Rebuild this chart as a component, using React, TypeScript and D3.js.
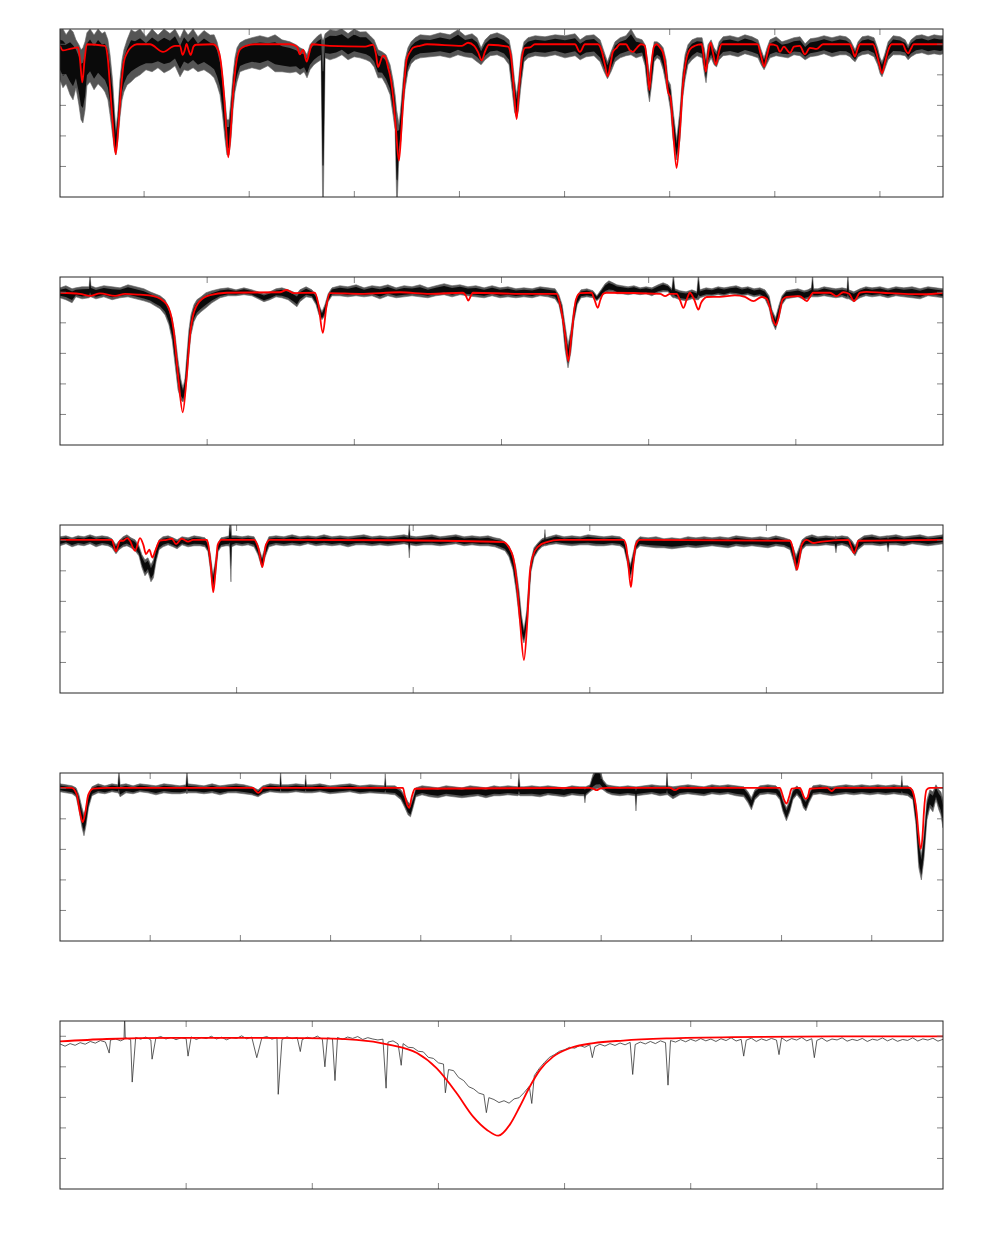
import React from 'react';
import * as d3 from 'd3';

const width = 1003;
const height = 1240;
const plotLeft = 60;
const plotRight = 943;
const firstTop = 29;
const panelStep = 248;
const panelHeight = 168;
const tickLen = 6;

const fluxDomain = [0, 1.1];
const fluxTicks = [0.2, 0.4, 0.6, 0.8, 1.0];

// panel 1: H9 .. Hdelta
const p1Domain = [3810, 4230];
const p1Ticks = [3850, 3900, 3950, 4000, 4050, 4100, 4150, 4200];
// observed spectrum, [wavelength, upper edge, lower edge] of the noise band
const p1Obs = [
  [3810.0, 1.095, 0.767], [3811.4, 1.10, 0.715], [3812.9, 1.062, 0.741], [3814.8, 1.10, 0.669], [3816.2, 1.082, 0.636],
  [3817.6, 1.029, 0.715], [3819.0, 0.997, 0.603], [3820.0, 0.964, 0.505], [3820.9, 0.977, 0.485], [3821.9, 1.016, 0.570],
  [3822.8, 1.075, 0.728], [3824.3, 1.10, 0.754], [3826.2, 1.06, 0.702], [3828.1, 1.10, 0.741], [3830.0, 1.07, 0.715],
  [3831.4, 1.082, 0.688], [3832.8, 1.029, 0.636], [3833.8, 0.931, 0.538], [3835.0, 0.767, 0.407], [3835.9, 0.570, 0.308],
  [3836.6, 0.439, 0.275], [3837.6, 0.570, 0.374], [3838.5, 0.767, 0.518], [3839.5, 0.898, 0.636], [3840.4, 0.964, 0.688],
  [3841.9, 1.029, 0.734], [3843.8, 1.095, 0.754], [3845.7, 1.08, 0.780], [3848.1, 1.10, 0.80], [3850.9, 1.05, 0.833],
  [3853.8, 1.10, 0.820], [3856.6, 1.06, 0.846], [3859.5, 1.10, 0.813], [3862.3, 1.07, 0.833], [3864.7, 1.10, 0.859],
  [3867.1, 1.04, 0.787], [3869.0, 1.10, 0.833], [3870.9, 1.06, 0.826], [3873.3, 1.10, 0.846], [3875.6, 1.05, 0.820],
  [3878.5, 1.09, 0.833], [3881.4, 1.06, 0.807], [3883.3, 1.062, 0.780], [3884.7, 1.016, 0.734], [3886.1, 0.931, 0.669],
  [3887.3, 0.80, 0.538], [3888.5, 0.636, 0.374], [3889.4, 0.505, 0.275], [3890.4, 0.505, 0.275], [3891.3, 0.636, 0.374],
  [3892.3, 0.80, 0.570], [3893.2, 0.911, 0.688], [3894.2, 0.977, 0.754], [3895.6, 1.010, 0.820], [3898.0, 1.029, 0.833],
  [3901.3, 1.043, 0.846], [3905.1, 1.056, 0.833], [3908.9, 1.043, 0.859], [3912.3, 1.062, 0.820], [3915.6, 1.029, 0.820],
  [3919.4, 1.016, 0.813], [3922.3, 0.997, 0.820], [3924.2, 0.977, 0.80], [3926.1, 0.964, 0.820], [3927.5, 0.931, 0.780],
  [3928.9, 0.997, 0.833], [3930.8, 1.029, 0.866], [3932.7, 1.056, 0.885], [3934.2, 1.069, 0.898], [3934.9, 1.029, 0],
  [3935.3, 1.029, 0], [3936.1, 1.069, 0.911], [3938.4, 1.095, 0.898], [3941.3, 1.089, 0.911], [3944.1, 1.10, 0.931],
  [3947.0, 1.07, 0.898], [3949.9, 1.10, 0.918], [3952.7, 1.08, 0.911], [3955.6, 1.082, 0.898], [3957.5, 1.056, 0.885],
  [3959.4, 1.029, 0.852], [3961.3, 0.964, 0.780], [3963.2, 0.951, 0.780], [3965.1, 0.931, 0.734], [3967.0, 0.866, 0.669],
  [3968.4, 0.767, 0.538], [3969.4, 0.669, 0.439], [3970.1, 0.570, 0], [3970.5, 0.538, 0], [3971.3, 0.472, 0.308],
  [3972.2, 0.603, 0.374], [3973.2, 0.767, 0.570], [3974.1, 0.898, 0.702], [3975.5, 0.977, 0.820], [3977.0, 1.016, 0.872],
  [3978.9, 1.043, 0.898], [3981.3, 1.062, 0.911], [3986.0, 1.056, 0.918], [3990.8, 1.075, 0.925], [3995.5, 1.062, 0.911],
  [3999.3, 1.095, 0.931], [4002.7, 1.056, 0.918], [4006.0, 1.069, 0.911], [4008.4, 1.043, 0.885], [4010.3, 0.977, 0.866],
  [4012.2, 1.029, 0.898], [4014.6, 1.062, 0.925], [4017.9, 1.075, 0.931], [4021.2, 1.056, 0.911], [4023.6, 1.029, 0.866],
  [4025.0, 0.931, 0.702], [4026.2, 0.767, 0.557], [4027.2, 0.669, 0.518], [4028.1, 0.767, 0.570], [4029.3, 0.931, 0.734],
  [4030.7, 1.016, 0.885], [4032.6, 1.043, 0.911], [4036.0, 1.056, 0.925], [4040.7, 1.049, 0.918], [4045.5, 1.062, 0.931],
  [4050.2, 1.056, 0.911], [4055.0, 1.069, 0.925], [4057.4, 1.029, 0.898], [4060.2, 1.056, 0.918], [4064.0, 1.062, 0.925],
  [4066.9, 1.029, 0.885], [4068.8, 0.951, 0.820], [4070.4, 0.885, 0.774], [4072.1, 0.951, 0.820], [4074.0, 1.016, 0.885],
  [4076.4, 1.043, 0.911], [4079.2, 1.056, 0.925], [4081.6, 1.10, 0.931], [4084.0, 1.043, 0.911], [4086.9, 1.029, 0.925],
  [4088.3, 0.997, 0.859], [4089.5, 0.898, 0.702], [4090.4, 0.80, 0.623], [4091.4, 0.898, 0.734], [4092.6, 1.016, 0.885],
  [4094.0, 1.016, 0.911], [4095.4, 1.003, 0.898], [4096.9, 0.977, 0.833], [4098.3, 0.898, 0.734], [4099.2, 0.767, 0.669],
  [4100.4, 0.734, 0.570], [4101.6, 0.570, 0.374], [4103.3, 0.374, 0.243], [4104.9, 0.570, 0.374], [4106.1, 0.80, 0.636],
  [4107.3, 0.931, 0.767], [4108.7, 0.997, 0.866], [4110.6, 1.029, 0.898], [4113.0, 1.043, 0.925], [4115.4, 1.043, 0.911],
  [4116.6, 0.964, 0.80], [4117.3, 0.898, 0.748], [4118.2, 0.997, 0.866], [4119.7, 1.029, 0.911], [4121.1, 0.977, 0.866],
  [4122.3, 0.951, 0.852], [4123.5, 1.016, 0.898], [4125.4, 1.049, 0.925], [4128.7, 1.056, 0.931], [4132.5, 1.043, 0.918],
  [4135.8, 1.062, 0.938], [4139.2, 1.049, 0.925], [4142.0, 1.029, 0.911], [4143.5, 0.964, 0.866], [4144.9, 0.911, 0.833],
  [4146.3, 0.977, 0.872], [4147.7, 1.029, 0.911], [4150.6, 1.049, 0.925], [4153.4, 1.016, 0.918], [4156.3, 1.029, 0.911],
  [4159.1, 1.043, 0.931], [4162.0, 1.049, 0.925], [4164.4, 1.003, 0.898], [4166.8, 1.036, 0.918], [4170.1, 1.043, 0.925],
  [4173.4, 1.056, 0.938], [4177.2, 1.043, 0.918], [4181.0, 1.056, 0.931], [4183.9, 1.049, 0.931], [4185.8, 1.029, 0.918],
  [4187.0, 0.997, 0.898], [4188.2, 0.964, 0.885], [4189.6, 1.016, 0.918], [4191.5, 1.049, 0.931], [4194.4, 1.056, 0.938],
  [4197.2, 1.043, 0.918], [4198.9, 0.977, 0.866], [4200.1, 0.911, 0.807], [4201.0, 0.885, 0.787], [4202.2, 0.931, 0.833],
  [4203.9, 1.016, 0.898], [4206.3, 1.056, 0.931], [4209.6, 1.049, 0.931], [4212.0, 1.029, 0.925], [4213.4, 0.990, 0.898],
  [4214.8, 1.029, 0.918], [4217.2, 1.056, 0.938], [4220.0, 1.062, 0.944], [4222.9, 1.049, 0.931], [4225.8, 1.062, 0.938],
  [4228.6, 1.056, 0.931], [4230.0, 1.056, 0.938],
];
// fitted model
const p1Model = [
  [3810.0, 0.99], [3811.4, 0.96], [3814.8, 0.97], [3818.6, 0.98], [3819.5, 0.90], [3820.6, 0.75], [3821.7, 0.90],
  [3822.8, 1.0], [3831.4, 0.99], [3832.8, 0.90], [3833.8, 0.72], [3835.0, 0.50], [3836.5, 0.28], [3837.8, 0.47],
  [3839.0, 0.70], [3840.4, 0.885], [3841.9, 0.944], [3844.2, 0.985], [3846.6, 1.0], [3852.8, 1.0], [3859.0, 0.95],
  [3864.7, 0.99], [3867.1, 0.99], [3868.3, 0.93], [3869.4, 0.964], [3870.2, 1.003], [3871.1, 0.964], [3872.2, 0.93],
  [3873.5, 0.985], [3874.7, 0.997], [3882.8, 1.0], [3884.6, 0.98], [3886.5, 0.885], [3888.0, 0.67], [3889.2, 0.41],
  [3890.0, 0.26], [3891.1, 0.41], [3892.3, 0.67], [3893.7, 0.865], [3895.6, 0.966], [3898.5, 0.99], [3902.7, 1.0],
  [3919.4, 1.0], [3922.7, 0.984], [3924.1, 0.934], [3925.6, 0.964], [3927.3, 0.887], [3928.7, 0.95], [3929.9, 1.0],
  [3938.4, 0.99], [3955.1, 0.985], [3958.9, 0.997], [3960.3, 0.934], [3961.3, 0.85], [3962.2, 0.88], [3963.6, 0.925],
  [3964.6, 0.92], [3966.0, 0.85], [3967.4, 0.767], [3968.6, 0.636], [3969.8, 0.439], [3971.2, 0.238], [3972.4, 0.44],
  [3973.4, 0.67], [3974.9, 0.90], [3976.5, 0.95], [3977.9, 0.977], [3981.2, 0.99], [3984.6, 1.0], [4001.2, 0.99],
  [4004.1, 1.01], [4007.0, 0.99], [4008.8, 0.95], [4010.6, 0.895], [4012.1, 0.95], [4014.0, 0.997], [4023.1, 0.985],
  [4024.7, 0.90], [4025.9, 0.70], [4027.2, 0.51], [4028.3, 0.70], [4029.6, 0.90], [4031.2, 0.977], [4033.5, 0.98],
  [4035.9, 1.0], [4054.9, 1.0], [4057.3, 0.95], [4059.7, 1.0], [4065.9, 1.0], [4067.8, 0.95], [4069.2, 0.866],
  [4070.5, 0.79], [4071.8, 0.866], [4073.0, 0.95], [4074.8, 0.977], [4076.3, 1.0], [4079.2, 1.0], [4080.9, 0.964],
  [4082.5, 0.95], [4084.4, 0.977], [4086.3, 1.0], [4088.2, 0.99], [4089.3, 0.866], [4090.3, 0.70], [4091.3, 0.866],
  [4092.5, 0.984], [4093.8, 1.0], [4095.4, 0.977], [4096.8, 0.944], [4098.2, 0.833], [4099.2, 0.69], [4100.4, 0.65],
  [4101.6, 0.44], [4103.3, 0.19], [4104.9, 0.44], [4106.3, 0.734], [4107.7, 0.885], [4109.6, 0.966], [4112.0, 0.99],
  [4115.2, 1.0], [4115.8, 0.96], [4117.2, 0.82], [4118.4, 0.95], [4119.5, 1.01], [4120.5, 0.95], [4122.0, 0.866],
  [4123.4, 0.95], [4124.7, 1.0], [4141.8, 1.0], [4143.3, 0.934], [4144.9, 0.854], [4146.4, 0.934], [4147.8, 1.0],
  [4151.0, 0.99], [4152.4, 0.95], [4154.3, 0.984], [4157.2, 0.944], [4159.1, 0.984], [4161.9, 0.99], [4164.3, 0.934],
  [4166.7, 0.977], [4169.9, 0.97], [4172.9, 1.0], [4185.7, 1.0], [4186.9, 0.964], [4188.1, 0.92], [4189.3, 0.964],
  [4190.5, 1.0], [4196.7, 1.0], [4198.3, 0.944], [4199.5, 0.88], [4201.0, 0.81], [4202.4, 0.88], [4203.7, 0.951],
  [4205.6, 1.0], [4210.9, 1.0], [4212.1, 0.964], [4213.4, 0.94], [4214.7, 0.97], [4216.1, 1.0], [4230.0, 1.0],
];

// panel 2: Hgamma .. HeII 4542
const p2Domain = [4300, 4600];
const p2Ticks = [4350, 4400, 4450, 4500, 4550];
const p2Obs = [
  [4300.0, 1.029, 0.964], [4302.0, 1.043, 0.951], [4304.1, 1.023, 0.931], [4305.4, 1.029, 0.970], [4307.5, 1.036, 0.957],
  [4309.9, 1.036, 0.964], [4310.2, 1.12, 0.970], [4310.5, 1.043, 0.970], [4312.2, 1.029, 0.957], [4314.9, 1.043, 0.970],
  [4317.7, 1.036, 0.951], [4320.4, 1.029, 0.964], [4323.1, 1.049, 0.970], [4325.8, 1.036, 0.957], [4328.5, 1.023, 0.944],
  [4330.6, 1.003, 0.931], [4332.3, 0.990, 0.911], [4334.0, 0.977, 0.892], [4335.7, 0.951, 0.852], [4337.0, 0.898, 0.787],
  [4338.1, 0.833, 0.689], [4339.1, 0.721, 0.525], [4340.1, 0.557, 0.361], [4341.1, 0.426, 0.295], [4341.8, 0.374, 0.282],
  [4342.5, 0.439, 0.321], [4343.1, 0.590, 0.426], [4343.8, 0.754, 0.590], [4344.5, 0.852, 0.721], [4345.5, 0.918, 0.807],
  [4346.5, 0.951, 0.846], [4347.9, 0.970, 0.872], [4349.6, 0.997, 0.898], [4351.6, 1.010, 0.931], [4354.4, 1.023, 0.964],
  [4357.1, 1.029, 0.977], [4359.8, 1.016, 0.977], [4362.5, 1.029, 0.984], [4365.2, 1.016, 0.977], [4367.3, 1.003, 0.957],
  [4369.3, 0.990, 0.938], [4371.3, 1.003, 0.951], [4373.4, 1.023, 0.970], [4375.4, 1.029, 0.964], [4377.5, 1.016, 0.951],
  [4379.2, 1.003, 0.925], [4380.5, 0.990, 0.905], [4381.5, 1.016, 0.938], [4383.6, 1.036, 0.970], [4385.6, 1.016, 0.964],
  [4387.0, 0.984, 0.918], [4388.0, 0.918, 0.852], [4389.0, 0.872, 0.820], [4390.0, 0.918, 0.846], [4391.1, 0.990, 0.938],
  [4392.4, 1.029, 0.977], [4395.1, 1.043, 0.977], [4397.8, 1.036, 0.970], [4400.6, 1.049, 0.977], [4403.3, 1.029, 0.970],
  [4406.0, 1.043, 0.977], [4408.7, 1.036, 0.957], [4411.4, 1.049, 0.977], [4414.2, 1.029, 0.964], [4416.9, 1.043, 0.970],
  [4419.6, 1.036, 0.977], [4422.3, 1.049, 0.970], [4425.0, 1.029, 0.964], [4427.7, 1.043, 0.977], [4430.5, 1.056, 0.984],
  [4433.2, 1.043, 0.970], [4435.9, 1.049, 0.984], [4438.6, 1.036, 0.977], [4441.3, 1.043, 0.970], [4444.1, 1.029, 0.964],
  [4446.8, 1.043, 0.977], [4449.5, 1.029, 0.964], [4452.2, 1.036, 0.970], [4454.9, 1.023, 0.964], [4457.6, 1.029, 0.970],
  [4460.4, 1.023, 0.964], [4463.1, 1.036, 0.977], [4465.8, 1.029, 0.970], [4468.2, 1.023, 0.957], [4469.5, 0.984, 0.918],
  [4470.6, 0.918, 0.820], [4471.6, 0.787, 0.623], [4472.6, 0.656, 0.505], [4473.6, 0.754, 0.610], [4474.6, 0.898, 0.807],
  [4475.7, 0.977, 0.918], [4477.0, 1.016, 0.964], [4479.0, 1.023, 0.970], [4481.1, 1.010, 0.964], [4482.4, 0.977, 0.944],
  [4483.8, 1.016, 0.970], [4485.2, 1.056, 0.997], [4486.5, 1.075, 1.003], [4487.9, 1.062, 1.003], [4489.2, 1.049, 0.990],
  [4490.9, 1.043, 0.990], [4493.0, 1.036, 0.984], [4495.0, 1.043, 0.990], [4497.1, 1.029, 0.984], [4499.1, 1.036, 0.990],
  [4501.1, 1.029, 0.977], [4503.2, 1.049, 0.997], [4504.9, 1.062, 1.003], [4506.6, 1.049, 1.003], [4507.9, 1.023, 0.970],
  [4508.4, 1.12, 0.964], [4508.9, 1.023, 0.964], [4510.6, 1.010, 0.951], [4512.7, 1.003, 0.944], [4514.7, 1.016, 0.957],
  [4516.4, 1.003, 0.951], [4516.9, 1.12, 0.951], [4517.4, 1.016, 0.964], [4519.5, 1.029, 0.977], [4521.5, 1.023, 0.977],
  [4523.6, 1.036, 0.984], [4525.6, 1.029, 0.977], [4527.6, 1.036, 0.990], [4529.7, 1.043, 0.984], [4531.7, 1.029, 0.977],
  [4533.7, 1.036, 0.984], [4535.8, 1.023, 0.970], [4537.8, 1.029, 0.977], [4539.5, 1.016, 0.957], [4540.9, 0.977, 0.898],
  [4541.9, 0.885, 0.807], [4543.1, 0.833, 0.754], [4544.3, 0.918, 0.833], [4545.3, 0.977, 0.918], [4546.7, 1.010, 0.957],
  [4548.7, 1.016, 0.964], [4550.7, 1.023, 0.970], [4552.8, 1.010, 0.951], [4554.1, 1.016, 0.957], [4555.3, 1.029, 0.970],
  [4555.7, 1.12, 0.970], [4556.0, 1.023, 0.970], [4557.5, 1.023, 0.970], [4559.6, 1.036, 0.977], [4561.6, 1.029, 0.970],
  [4563.6, 1.023, 0.964], [4565.7, 1.029, 0.970], [4567.4, 1.023, 0.957], [4567.7, 1.12, 0.957], [4568.0, 1.016, 0.957],
  [4569.7, 1.003, 0.938], [4571.8, 1.023, 0.964], [4573.8, 1.036, 0.977], [4575.9, 1.029, 0.970], [4578.6, 1.036, 0.977],
  [4581.3, 1.023, 0.964], [4584.0, 1.036, 0.977], [4586.7, 1.029, 0.970], [4589.5, 1.036, 0.964], [4592.2, 1.023, 0.957],
  [4594.9, 1.036, 0.977], [4597.6, 1.029, 0.970], [4600.0, 1.023, 0.964],
];
const p2Model = [
  [4300.0, 0.997], [4306.8, 0.990], [4310.2, 0.977], [4313.6, 0.993], [4318.7, 0.977], [4322.1, 0.990], [4327.2, 0.984],
  [4331.7, 0.975], [4336.3, 0.920], [4338.5, 0.767], [4340.2, 0.439], [4341.7, 0.214], [4343.0, 0.439], [4344.2, 0.723],
  [4345.3, 0.854], [4347.6, 0.944], [4351.0, 0.982], [4356.6, 0.997], [4374.7, 1.0], [4377.0, 1.015], [4379.3, 0.995],
  [4386.6, 0.997], [4387.8, 0.920], [4389.3, 0.734], [4390.6, 0.920], [4391.7, 0.995], [4401.9, 0.990], [4415.5, 1.0],
  [4425.7, 0.990], [4436.9, 0.997], [4437.9, 0.977], [4438.7, 0.946], [4439.6, 0.977], [4440.3, 0.997], [4456.3, 0.990],
  [4468.7, 0.990], [4469.9, 0.920], [4471.6, 0.723], [4472.7, 0.549], [4473.8, 0.723], [4475.3, 0.953], [4476.7, 0.995],
  [4480.6, 0.997], [4481.6, 0.951], [4482.7, 0.898], [4483.6, 0.951], [4484.6, 0.990], [4485.7, 0.997], [4503.9, 0.990],
  [4505.6, 0.975], [4507.3, 0.990], [4509.5, 0.990], [4510.6, 0.951], [4511.8, 0.898], [4512.9, 0.951], [4514.0, 0.997],
  [4515.5, 0.951], [4516.9, 0.887], [4517.8, 0.931], [4518.6, 0.953], [4519.7, 0.969], [4524.2, 0.970], [4529.3, 0.980],
  [4532.7, 0.970], [4535.6, 0.942], [4538.4, 0.969], [4540.1, 0.957], [4541.2, 0.898], [4542.4, 0.811], [4543.2, 0.785],
  [4544.1, 0.833], [4545.5, 0.953], [4546.9, 0.970], [4551.4, 0.975], [4553.7, 0.942], [4555.9, 0.997], [4561.6, 0.997],
  [4563.9, 0.975], [4566.1, 1.0], [4568.1, 0.990], [4569.8, 0.942], [4571.8, 0.997], [4574.1, 1.003], [4579.6, 0.997],
  [4593.2, 0.987], [4600.0, 0.997],
];

// panel 3: HeII 4686 .. HeI 5016
const p3Domain = [4600, 5100];
const p3Ticks = [4700, 4800, 4900, 5000];
const p3Obs = [
  [4600.0, 1.023, 0.964], [4603.4, 1.029, 0.977], [4606.8, 1.016, 0.957], [4610.2, 1.029, 0.970], [4613.6, 1.023, 0.964],
  [4617.0, 1.036, 0.977], [4620.4, 1.023, 0.957], [4623.8, 1.029, 0.970], [4627.2, 1.023, 0.964], [4629.4, 1.010, 0.951],
  [4631.7, 0.970, 0.911], [4633.4, 0.997, 0.938], [4635.7, 1.023, 0.957], [4637.9, 1.036, 0.964], [4640.2, 1.016, 0.951],
  [4642.5, 1.003, 0.931], [4644.7, 0.964, 0.898], [4646.4, 0.905, 0.820], [4648.1, 0.872, 0.767], [4649.8, 0.885, 0.793],
  [4651.5, 0.839, 0.728], [4652.9, 0.872, 0.754], [4654.4, 0.951, 0.859], [4656.1, 1.003, 0.938], [4658.3, 1.023, 0.957],
  [4661.2, 1.029, 0.970], [4664.0, 1.016, 0.957], [4666.3, 1.003, 0.944], [4669.1, 1.023, 0.970], [4672.5, 1.016, 0.957],
  [4675.9, 1.029, 0.964], [4679.3, 1.023, 0.964], [4682.1, 1.016, 0.957], [4683.8, 0.984, 0.925], [4685.2, 0.905, 0.807],
  [4686.6, 0.774, 0.675], [4688.1, 0.872, 0.774], [4689.5, 0.984, 0.925], [4691.2, 1.016, 0.957], [4694.0, 1.023, 0.964],
  [4695.7, 1.029, 0.964], [4696.1, 1.12, 0.951], [4696.8, 1.12, 0.728], [4697.2, 1.029, 0.957], [4699.7, 1.029, 0.970],
  [4703.1, 1.023, 0.964], [4706.5, 1.029, 0.970], [4709.9, 1.023, 0.957], [4712.1, 0.970, 0.905], [4714.4, 0.885, 0.820],
  [4716.4, 0.970, 0.898], [4718.3, 1.023, 0.957], [4722.3, 1.029, 0.970], [4726.8, 1.023, 0.964], [4731.4, 1.036, 0.970],
  [4735.9, 1.023, 0.964], [4740.4, 1.029, 0.977], [4745.0, 1.023, 0.964], [4749.5, 1.036, 0.970], [4754.0, 1.023, 0.964],
  [4758.6, 1.029, 0.970], [4763.1, 1.023, 0.957], [4767.6, 1.029, 0.970], [4772.1, 1.036, 0.970], [4776.7, 1.023, 0.964],
  [4781.2, 1.029, 0.970], [4785.7, 1.023, 0.964], [4790.3, 1.029, 0.970], [4794.8, 1.036, 0.977], [4797.3, 1.029, 0.970],
  [4797.8, 1.12, 0.885], [4798.2, 1.029, 0.970], [4801.6, 1.023, 0.964], [4806.1, 1.029, 0.970], [4810.6, 1.036, 0.970],
  [4815.2, 1.023, 0.964], [4819.7, 1.029, 0.970], [4824.2, 1.036, 0.977], [4828.8, 1.023, 0.964], [4833.3, 1.029, 0.970],
  [4837.8, 1.023, 0.964], [4842.4, 1.029, 0.964], [4846.3, 1.016, 0.957], [4849.2, 1.010, 0.944], [4852.0, 0.990, 0.931],
  [4854.2, 0.964, 0.892], [4856.5, 0.905, 0.807], [4858.2, 0.820, 0.675], [4859.9, 0.675, 0.511], [4861.3, 0.511, 0.380],
  [4862.7, 0.413, 0.328], [4864.2, 0.531, 0.413], [4865.6, 0.741, 0.610], [4866.7, 0.872, 0.793], [4868.4, 0.951, 0.885],
  [4870.7, 0.984, 0.931], [4872.9, 1.010, 0.957], [4874.3, 1.016, 0.964], [4874.6, 1.07, 0.964], [4874.9, 1.016, 0.964],
  [4876.9, 1.023, 0.970], [4880.9, 1.036, 0.977], [4885.4, 1.023, 0.970], [4889.9, 1.029, 0.964], [4894.5, 1.023, 0.970],
  [4899.0, 1.036, 0.970], [4903.5, 1.029, 0.964], [4908.0, 1.023, 0.964], [4912.6, 1.029, 0.970], [4917.1, 1.023, 0.964],
  [4919.4, 1.003, 0.944], [4921.1, 0.925, 0.859], [4923.0, 0.839, 0.754], [4924.7, 0.925, 0.839], [4926.2, 0.997, 0.938],
  [4928.4, 1.023, 0.964], [4933.0, 1.016, 0.957], [4937.5, 1.023, 0.951], [4942.0, 1.010, 0.951], [4946.5, 1.016, 0.944],
  [4951.1, 1.010, 0.951], [4955.6, 1.023, 0.957], [4960.1, 1.016, 0.951], [4964.7, 1.023, 0.957], [4969.2, 1.016, 0.964],
  [4973.7, 1.023, 0.957], [4978.3, 1.016, 0.951], [4982.8, 1.029, 0.964], [4987.3, 1.023, 0.957], [4991.8, 1.016, 0.964],
  [4996.4, 1.023, 0.957], [5000.9, 1.016, 0.951], [5005.4, 1.029, 0.964], [5010.0, 1.016, 0.957], [5013.4, 1.003, 0.938],
  [5015.1, 0.957, 0.872], [5016.8, 0.898, 0.800], [5018.5, 0.951, 0.859], [5020.2, 1.003, 0.938], [5022.4, 1.023, 0.964],
  [5025.8, 1.036, 0.964], [5029.2, 1.023, 0.964], [5033.7, 1.029, 0.970], [5038.8, 1.023, 0.964], [5039.4, 1.029, 0.918],
  [5039.9, 1.023, 0.964], [5042.8, 1.029, 0.970], [5046.2, 1.023, 0.957], [5048.5, 0.997, 0.925], [5050.2, 0.964, 0.898],
  [5051.9, 1.003, 0.938], [5055.3, 1.029, 0.970], [5059.8, 1.036, 0.970], [5064.3, 1.023, 0.964], [5068.3, 1.029, 0.970],
  [5068.9, 1.029, 0.925], [5069.4, 1.029, 0.970], [5073.4, 1.036, 0.970], [5077.9, 1.023, 0.964], [5082.5, 1.029, 0.977],
  [5087.0, 1.036, 0.970], [5091.5, 1.023, 0.964], [5096.0, 1.029, 0.970], [5100.0, 1.036, 0.977],
];
const p3Model = [
  [4600.0, 1.003], [4629.3, 1.003], [4631.7, 0.927], [4634.0, 0.997], [4635.8, 0.997], [4638.1, 1.014], [4639.6, 0.997],
  [4642.5, 0.931], [4645.3, 1.014], [4647.2, 0.970], [4648.7, 0.909], [4650.6, 0.938], [4652.3, 0.887], [4653.8, 0.927],
  [4656.6, 0.997], [4660.4, 1.003], [4663.3, 1.010], [4665.7, 0.975], [4668.9, 1.010], [4672.6, 0.991], [4675.3, 1.003],
  [4683.2, 1.003], [4684.0, 0.970], [4685.3, 0.839], [4686.8, 0.660], [4688.2, 0.820], [4689.3, 0.970], [4691.6, 1.003],
  [4709.9, 1.003], [4712.3, 0.949], [4714.6, 0.824], [4716.6, 0.970], [4718.9, 1.003], [4792.5, 1.0], [4851.0, 0.988],
  [4853.9, 0.959], [4856.7, 0.883], [4858.6, 0.730], [4860.5, 0.468], [4862.7, 0.216], [4864.6, 0.468], [4866.1, 0.795],
  [4868.0, 0.905], [4870.8, 0.959], [4875.6, 0.988], [4883.1, 1.002], [4919.0, 1.003], [4920.5, 0.970], [4921.8, 0.839],
  [4923.3, 0.693], [4924.6, 0.839], [4926.0, 0.970], [4928.4, 1.002], [5013.4, 0.997], [5014.9, 0.949], [5016.2, 0.861],
  [5017.3, 0.807], [5018.6, 0.872], [5020.0, 0.970], [5022.8, 1.002], [5026.6, 0.982], [5030.4, 0.990], [5046.4, 1.003],
  [5047.9, 0.964], [5049.6, 0.916], [5051.3, 0.964], [5052.0, 0.997], [5100.0, 1.003],
];

// panel 4: HeII 5411 .. HeI 5876
const p4Domain = [5400, 5889.5];
const p4Ticks = [5450, 5500, 5550, 5600, 5650, 5700, 5750, 5800, 5850];
const p4Obs = [
  [5400.0, 1.029, 0.977], [5403.3, 1.023, 0.970], [5406.7, 1.016, 0.964], [5408.9, 1.003, 0.944], [5410.5, 0.957, 0.859],
  [5412.2, 0.872, 0.741], [5413.3, 0.826, 0.689], [5414.4, 0.872, 0.754], [5415.8, 0.957, 0.872], [5417.7, 1.010, 0.951],
  [5421.1, 1.029, 0.970], [5424.9, 1.016, 0.964], [5428.8, 1.029, 0.977], [5432.1, 1.023, 0.970], [5432.7, 1.12, 0.964],
  [5433.3, 1.023, 0.944], [5436.6, 1.029, 0.970], [5440.5, 1.016, 0.964], [5444.3, 1.029, 0.977], [5448.8, 1.023, 0.970],
  [5453.2, 1.016, 0.957], [5457.6, 1.029, 0.970], [5462.1, 1.023, 0.964], [5466.5, 1.016, 0.964], [5469.8, 1.023, 0.970],
  [5470.4, 1.12, 0.964], [5470.9, 1.029, 0.970], [5475.4, 1.023, 0.970], [5479.8, 1.016, 0.964], [5484.3, 1.029, 0.970],
  [5488.7, 1.016, 0.957], [5493.1, 1.023, 0.970], [5497.6, 1.029, 0.970], [5502.0, 1.023, 0.964], [5506.4, 1.010, 0.957],
  [5509.8, 0.990, 0.944], [5512.5, 1.016, 0.964], [5516.4, 1.029, 0.977], [5521.9, 1.023, 0.970], [5522.3, 1.12, 0.970],
  [5522.7, 1.023, 0.970], [5526.4, 1.023, 0.970], [5530.8, 1.029, 0.977], [5535.8, 1.023, 0.970], [5536.2, 1.088, 0.970],
  [5536.6, 1.023, 0.970], [5539.7, 1.023, 0.970], [5544.1, 1.029, 0.977], [5549.7, 1.016, 0.964], [5555.2, 1.023, 0.970],
  [5560.7, 1.029, 0.977], [5566.3, 1.016, 0.964], [5571.8, 1.023, 0.970], [5579.9, 1.016, 0.964], [5580.3, 1.095, 0.964],
  [5580.7, 1.016, 0.964], [5585.7, 1.016, 0.957], [5589.0, 0.990, 0.925], [5591.2, 0.951, 0.872], [5592.9, 0.911, 0.826],
  [5594.3, 0.892, 0.813], [5595.7, 0.938, 0.872], [5597.3, 1.003, 0.944], [5600.7, 1.016, 0.957], [5605.1, 1.010, 0.944],
  [5609.5, 1.003, 0.938], [5614.0, 1.016, 0.951], [5618.4, 1.010, 0.944], [5622.8, 1.003, 0.938], [5627.3, 1.016, 0.944],
  [5631.7, 1.010, 0.951], [5636.1, 1.003, 0.938], [5640.6, 1.016, 0.951], [5643.9, 1.010, 0.951], [5648.3, 1.016, 0.957],
  [5653.9, 1.010, 0.951], [5654.4, 1.095, 0.957], [5655.0, 1.010, 0.951], [5657.2, 1.010, 0.951], [5661.6, 1.016, 0.951],
  [5666.1, 1.010, 0.944], [5670.5, 1.016, 0.957], [5674.9, 1.010, 0.951], [5679.4, 1.003, 0.944], [5683.8, 1.016, 0.957],
  [5688.2, 1.010, 0.951], [5690.6, 1.010, 0.951], [5691.0, 1.010, 0.905], [5691.4, 1.010, 0.951], [5693.8, 1.023, 0.977],
  [5695.4, 1.088, 0.990], [5697.1, 1.134, 0.997], [5699.3, 1.121, 1.003], [5701.0, 1.056, 0.990], [5703.2, 1.023, 0.970],
  [5706.0, 1.016, 0.957], [5710.4, 1.010, 0.951], [5714.8, 1.016, 0.957], [5718.9, 1.010, 0.951], [5719.3, 1.010, 0.852],
  [5719.7, 1.010, 0.951], [5723.7, 1.016, 0.957], [5728.1, 1.023, 0.964], [5732.6, 1.016, 0.951], [5736.1, 1.016, 0.957],
  [5736.5, 1.12, 0.957], [5736.9, 1.016, 0.957], [5739.8, 1.010, 0.931], [5743.7, 1.016, 0.957], [5748.1, 1.023, 0.964],
  [5752.5, 1.016, 0.957], [5757.0, 1.010, 0.951], [5761.4, 1.023, 0.964], [5765.8, 1.016, 0.957], [5770.3, 1.023, 0.964],
  [5774.7, 1.016, 0.951], [5779.1, 1.010, 0.944], [5781.4, 0.977, 0.905], [5783.3, 0.938, 0.859], [5785.2, 0.990, 0.925],
  [5788.0, 1.016, 0.957], [5792.4, 1.023, 0.964], [5796.9, 1.016, 0.957], [5799.1, 0.990, 0.925], [5800.8, 0.925, 0.846],
  [5802.7, 0.872, 0.787], [5804.6, 0.925, 0.846], [5806.3, 0.990, 0.925], [5808.5, 1.016, 0.957], [5810.7, 0.990, 0.925],
  [5812.1, 0.944, 0.872], [5813.5, 0.925, 0.852], [5815.2, 0.970, 0.905], [5817.4, 1.016, 0.957], [5821.3, 1.023, 0.964],
  [5824.6, 1.016, 0.957], [5827.9, 1.010, 0.951], [5831.3, 1.016, 0.957], [5835.7, 1.023, 0.964], [5840.1, 1.016, 0.957],
  [5844.5, 1.023, 0.964], [5849.0, 1.016, 0.957], [5853.4, 1.023, 0.964], [5857.8, 1.016, 0.957], [5862.3, 1.023, 0.964],
  [5866.3, 1.016, 0.957], [5866.7, 1.082, 0.957], [5867.1, 1.016, 0.957], [5870.0, 1.016, 0.951], [5872.8, 0.990, 0.925],
  [5874.5, 0.892, 0.761], [5876.1, 0.662, 0.479], [5877.5, 0.564, 0.400], [5878.9, 0.695, 0.531], [5880.6, 0.925, 0.793],
  [5882.2, 0.990, 0.872], [5883.9, 0.977, 0.846], [5885.6, 1.023, 0.925], [5887.2, 0.990, 0.859], [5888.3, 0.977, 0.826],
  [5889.5, 0.925, 0.741],
];
const p4Model = [
  [5400.0, 1.003], [5406.5, 1.003], [5409.3, 0.959], [5411.1, 0.839], [5412.6, 0.778], [5414.0, 0.839], [5415.7, 0.959],
  [5418.5, 0.997], [5426.1, 1.003], [5507.0, 1.003], [5508.4, 0.984], [5509.9, 0.970], [5511.4, 0.984], [5512.4, 1.003],
  [5590.1, 1.003], [5591.2, 0.949], [5592.7, 0.887], [5593.6, 0.872], [5594.9, 0.938], [5596.8, 0.997], [5693.8, 1.003],
  [5695.7, 0.997], [5697.5, 0.988], [5699.3, 0.997], [5703.2, 1.003], [5738.1, 1.003], [5740.9, 0.988], [5743.7, 1.003],
  [5799.1, 1.003], [5800.0, 0.977], [5801.3, 0.927], [5802.8, 0.900], [5804.2, 0.944], [5805.6, 0.997], [5810.2, 1.003],
  [5811.1, 0.984], [5812.4, 0.944], [5813.5, 0.931], [5814.6, 0.944], [5815.7, 0.997], [5825.2, 1.003], [5827.8, 0.982],
  [5830.1, 1.003], [5871.1, 1.003], [5873.0, 0.970], [5874.9, 0.839], [5876.0, 0.695], [5877.1, 0.603], [5878.2, 0.695],
  [5878.9, 0.839], [5880.4, 0.990], [5882.2, 1.003], [5889.5, 1.003],
];

// panel 5: Halpha
const p5Domain = [6500, 6640];
const p5Ticks = [6520, 6540, 6560, 6580, 6600, 6620];
const p5Obs = [
  [6500.0, 0.950], [6500.8, 0.935], [6501.6, 0.952], [6502.4, 0.941], [6503.2, 0.958], [6504.0, 0.948], [6504.8, 0.966],
  [6505.6, 0.955], [6506.4, 0.972], [6507.2, 0.962], [6507.8, 0.89], [6508.0, 0.975], [6508.8, 0.983], [6509.6, 0.970],
  [6510.15, 0.98], [6510.25, 1.13], [6510.35, 0.985], [6510.4, 0.990], [6511.2, 0.978], [6511.45, 0.70], [6512.0, 0.992],
  [6512.8, 0.981], [6513.6, 0.995], [6514.4, 0.976], [6514.6, 0.85], [6515.2, 0.989], [6516.0, 0.998], [6516.8, 0.982],
  [6517.6, 0.993], [6518.4, 0.978], [6519.2, 0.990], [6520.0, 0.984], [6520.3, 0.87], [6520.8, 0.996], [6521.6, 0.979],
  [6522.4, 0.992], [6523.2, 0.985], [6524.0, 1.000], [6524.8, 0.982], [6525.6, 0.994], [6526.4, 0.977], [6527.2, 0.991],
  [6528.0, 0.986], [6528.8, 1.003], [6529.6, 0.983], [6530.4, 0.995], [6531.2, 0.86], [6532.0, 0.990], [6532.8, 0.998],
  [6533.6, 0.981], [6534.4, 0.992], [6534.6, 0.62], [6535.2, 0.979], [6536.0, 0.996], [6536.8, 0.984], [6537.6, 0.993],
  [6538.1, 0.90], [6538.4, 0.978], [6539.2, 0.994], [6540.0, 0.985], [6540.8, 1.001], [6541.6, 0.980], [6542.0, 0.80],
  [6542.4, 0.990], [6543.2, 0.983], [6543.6, 0.71], [6544.0, 0.992], [6544.8, 0.980], [6545.6, 0.995], [6546.4, 0.986],
  [6547.2, 0.998], [6548.0, 0.979], [6548.8, 0.991], [6549.6, 0.982], [6550.4, 0.976], [6551.2, 0.981], [6551.7, 0.66],
  [6552.0, 0.962], [6552.8, 0.970], [6553.6, 0.950], [6554.1, 0.81], [6554.4, 0.952], [6555.2, 0.928], [6556.0, 0.925],
  [6556.8, 0.902], [6557.6, 0.898], [6558.4, 0.862], [6559.2, 0.855], [6560.0, 0.826], [6560.8, 0.818], [6561.1, 0.63],
  [6561.6, 0.782], [6562.4, 0.775], [6563.2, 0.730], [6564.0, 0.710], [6564.8, 0.670], [6565.6, 0.655], [6566.4, 0.628],
  [6567.2, 0.618], [6567.6, 0.50], [6568.0, 0.598], [6568.8, 0.586], [6569.6, 0.566], [6570.4, 0.578], [6571.2, 0.562],
  [6572.0, 0.590], [6572.8, 0.598], [6573.6, 0.632], [6574.4, 0.672], [6574.8, 0.56], [6575.2, 0.742], [6576.0, 0.790],
  [6576.8, 0.828], [6577.6, 0.862], [6578.4, 0.880], [6579.2, 0.902], [6580.0, 0.912], [6580.8, 0.928], [6581.6, 0.922],
  [6582.4, 0.940], [6583.2, 0.928], [6584.0, 0.945], [6584.4, 0.86], [6584.8, 0.932], [6585.6, 0.948], [6586.4, 0.936],
  [6587.2, 0.952], [6588.0, 0.940], [6588.8, 0.956], [6589.6, 0.944], [6590.4, 0.960], [6590.8, 0.75], [6591.2, 0.946],
  [6592.0, 0.962], [6592.8, 0.950], [6593.6, 0.966], [6594.4, 0.952], [6595.2, 0.970], [6596.0, 0.958], [6596.4, 0.68],
  [6596.8, 0.972], [6597.6, 0.962], [6598.4, 0.978], [6599.2, 0.964], [6600.0, 0.980], [6600.8, 0.968], [6601.6, 0.985],
  [6602.4, 0.970], [6603.2, 0.982], [6604.0, 0.966], [6604.8, 0.984], [6605.6, 0.972], [6606.4, 0.990], [6607.2, 0.969],
  [6608.0, 0.980], [6608.4, 0.87], [6608.8, 0.974], [6609.6, 0.988], [6610.4, 0.966], [6611.2, 0.983], [6612.0, 0.972],
  [6612.8, 0.986], [6613.6, 0.975], [6614.0, 0.88], [6614.4, 0.990], [6615.2, 0.968], [6616.0, 0.985], [6616.8, 0.975],
  [6617.6, 0.992], [6618.4, 0.970], [6619.2, 0.984], [6619.6, 0.86], [6620.0, 0.973], [6620.8, 0.988], [6621.6, 0.967],
  [6622.4, 0.982], [6623.2, 0.976], [6624.0, 0.990], [6624.8, 0.968], [6625.6, 0.980], [6626.4, 0.972], [6627.2, 0.986],
  [6628.0, 0.966], [6628.8, 0.981], [6629.6, 0.974], [6630.4, 0.989], [6631.2, 0.970], [6632.0, 0.984], [6632.8, 0.967],
  [6633.6, 0.979], [6634.4, 0.973], [6635.2, 0.990], [6636.0, 0.969], [6636.8, 0.983], [6637.6, 0.975], [6638.4, 0.987],
  [6639.2, 0.968], [6640.0, 0.980],
];
const p5Model = [
  [6500.0, 0.966], [6507.4, 0.982], [6518.0, 0.990], [6528.5, 0.990], [6539.1, 0.988], [6547.0, 0.977], [6552.3, 0.944],
  [6556.6, 0.890], [6559.7, 0.791], [6562.9, 0.627], [6565.5, 0.474], [6567.7, 0.387], [6569.5, 0.349], [6571.3, 0.420],
  [6572.9, 0.540], [6574.5, 0.671], [6576.1, 0.780], [6578.2, 0.867], [6580.9, 0.923], [6584.6, 0.955], [6589.3, 0.972],
  [6596.2, 0.986], [6606.7, 0.995], [6622.6, 0.999], [6640.0, 0.999],
];

const panels = [
  { domain: p1Domain, ticks: p1Ticks, obs: p1Obs, model: p1Model, band: true },
  { domain: p2Domain, ticks: p2Ticks, obs: p2Obs, model: p2Model, band: true },
  { domain: p3Domain, ticks: p3Ticks, obs: p3Obs, model: p3Model, band: true },
  { domain: p4Domain, ticks: p4Ticks, obs: p4Obs, model: p4Model, band: true },
  { domain: p5Domain, ticks: p5Ticks, obs: p5Obs, model: p5Model, band: false },
];

// the dense noise is drawn as a grey fringe around a darker core
const coreInset = 0.2;

const Panel = ({ index, domain, ticks, obs, model, band }) => {
  const top = firstTop + index * panelStep;
  const bottom = top + panelHeight;
  const x = d3.scaleLinear().domain(domain).range([plotLeft, plotRight]);
  const y = d3.scaleLinear().domain(fluxDomain).range([bottom, top]);

  const fringe = d3.area()
    .x(d => x(d[0]))
    .y0(d => y(d[2]))
    .y1(d => y(d[1]));
  const core = d3.area()
    .x(d => x(d[0]))
    .y0(d => y(d[2] + (d[1] - d[2]) * coreInset))
    .y1(d => y(d[1] - (d[1] - d[2]) * coreInset));
  const obsLine = d3.line()
    .x(d => x(d[0]))
    .y(d => y(d[1]));
  const modelLine = d3.line()
    .x(d => x(d[0]))
    .y(d => y(d[1]))
    .curve(d3.curveMonotoneX);

  const clipId = `clip-panel-${index}`;

  return (
    <g>
      <defs>
        <clipPath id={clipId}>
          <rect x={plotLeft} y={top} width={plotRight - plotLeft} height={panelHeight} />
        </clipPath>
      </defs>

      <g clipPath={`url(#${clipId})`}>
        {band ? (
          <g>
            <path d={fringe(obs)} fill="#555" stroke="#666" strokeWidth={0.6} />
            <path d={core(obs)} fill="#0a0a0a" stroke="none" />
          </g>
        ) : (
          <path d={obsLine(obs)} fill="none" stroke="#333" strokeWidth={0.8} />
        )}
        <path d={modelLine(model)} fill="none" stroke="#ff0000" strokeWidth={1.8} />
      </g>

      {ticks.map(t => (
        <g key={t}>
          <line x1={x(t)} x2={x(t)} y1={bottom} y2={bottom - tickLen} stroke="#666" strokeWidth={0.8} />
          <line x1={x(t)} x2={x(t)} y1={top} y2={top + tickLen} stroke="#666" strokeWidth={0.8} />
        </g>
      ))}
      {fluxTicks.map(t => (
        <g key={t}>
          <line x1={plotLeft} x2={plotLeft + tickLen} y1={y(t)} y2={y(t)} stroke="#666" strokeWidth={0.8} />
          <line x1={plotRight} x2={plotRight - tickLen} y1={y(t)} y2={y(t)} stroke="#666" strokeWidth={0.8} />
        </g>
      ))}

      <rect
        x={plotLeft}
        y={top}
        width={plotRight - plotLeft}
        height={panelHeight}
        fill="none"
        stroke="#262626"
        strokeWidth={1}
      />
    </g>
  );
};

const App = () => (
  <svg
    width={width}
    height={height}
    style={{ position: 'absolute', left: 0, top: 0, background: '#fff' }}
  >
    {panels.map((p, i) => (
      <Panel key={i} index={i} {...p} />
    ))}
  </svg>
);

export default App;
